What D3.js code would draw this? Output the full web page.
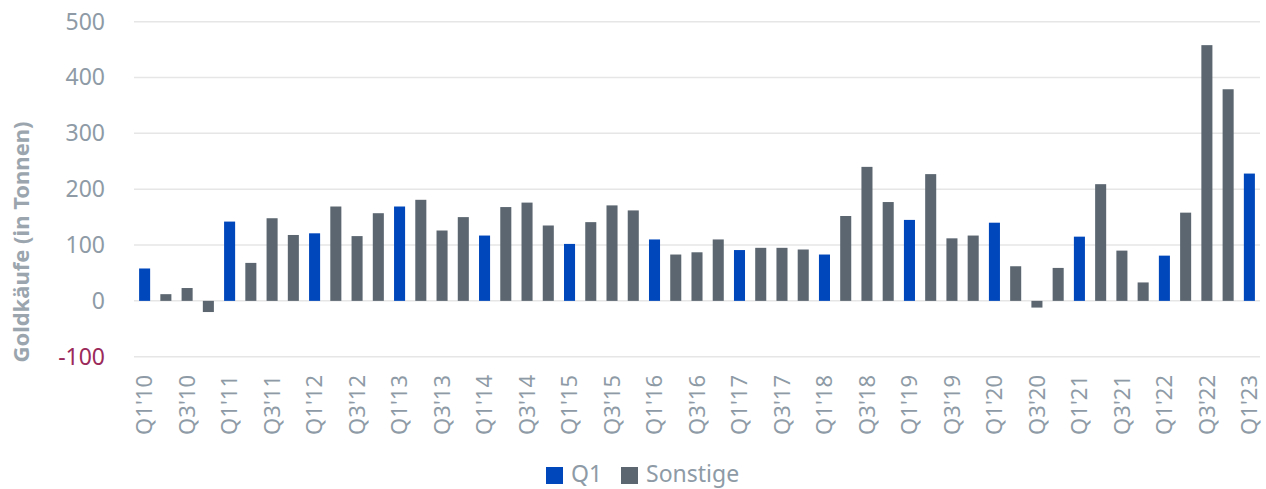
<!DOCTYPE html>
<html>
<head>
<meta charset="utf-8">
<script src="https://cdn.jsdelivr.net/npm/d3@7"></script>
<style>
  body { margin: 0; background: #fff; }
  svg { display: block; font-family: "Noto Sans", "DejaVu Sans", sans-serif; }
</style>
</head>
<body>
<svg id="chart" width="1266" height="489"></svg>
<script>
// quarters, Q1'10 .. Q1'23
const quarters = [
  "Q1'10","Q2'10","Q3'10","Q4'10",
  "Q1'11","Q2'11","Q3'11","Q4'11",
  "Q1'12","Q2'12","Q3'12","Q4'12",
  "Q1'13","Q2'13","Q3'13","Q4'13",
  "Q1'14","Q2'14","Q3'14","Q4'14",
  "Q1'15","Q2'15","Q3'15","Q4'15",
  "Q1'16","Q2'16","Q3'16","Q4'16",
  "Q1'17","Q2'17","Q3'17","Q4'17",
  "Q1'18","Q2'18","Q3'18","Q4'18",
  "Q1'19","Q2'19","Q3'19","Q4'19",
  "Q1'20","Q2'20","Q3'20","Q4'20",
  "Q1'21","Q2'21","Q3'21","Q4'21",
  "Q1'22","Q2'22","Q3'22","Q4'22",
  "Q1'23"
];

// gold purchases in tonnes
const tonnes = [
  58, 12, 23, -20,
  142, 68, 148, 118,
  121, 169, 116, 157,
  169, 181, 126, 150,
  117, 168, 176, 135,
  102, 141, 171, 162,
  110, 83, 87, 110,
  91, 95, 95, 92,
  83, 152, 240, 177,
  145, 227, 112, 117,
  140, 62, -12, 59,
  115, 209, 90, 33,
  81, 158, 458, 379,
  228
];

const yTicks = [-100, 0, 100, 200, 300, 400, 500];
const seriesNames = ["Q1", "Sonstige"];

const blue = '#0047bb', grey = '#5b6670';
const tickGrey = '#8e9ba6', negColor = '#9b2a5a';

const svg = d3.select('#chart');

const x = d3.scaleBand()
  .domain(quarters)
  .range([134, 1260])
  .paddingInner(0.48)
  .paddingOuter(0.24);

const y = d3.scaleLinear()
  .domain([-100, 500])
  .range([356.7, 21.7]);

const isQ1 = q => q.startsWith('Q1');

// gridlines
svg.append('g')
  .selectAll('line')
  .data(yTicks)
  .enter()
    .append('line')
    .attr('x1', 134)
    .attr('x2', 1260)
    .attr('y1', d => y(d))
    .attr('y2', d => y(d))
    .attr('stroke', '#e6e6e6')
    .attr('stroke-width', 1.5);

// y axis labels (plain hyphen for negatives)
let yAxis = g => g
  .attr('transform', 'translate(105,0)')
  .call(d3.axisLeft(y).tickValues(yTicks).tickFormat(d => String(d)).tickSize(0).tickPadding(0))
  .call(g => g.select('.domain').remove())
  .call(g => g.selectAll('text')
    .attr('font-size', 23)
    .attr('font-family', '"Noto Sans", sans-serif')
    .attr('fill', d => d < 0 ? negColor : tickGrey));
svg.append('g').call(yAxis);

// bars
svg.append('g')
  .selectAll('rect')
  .data(quarters.map((q, i) => ({ q, v: tonnes[i] })))
  .enter()
    .append('rect')
    .attr('x', d => x(d.q))
    .attr('width', x.bandwidth())
    .attr('y', d => y(Math.max(0, d.v)))
    .attr('height', d => Math.abs(y(d.v) - y(0)))
    .attr('fill', d => isQ1(d.q) ? blue : grey);

// x axis labels, every second quarter
let xAxis = g => g
  .attr('transform', 'translate(0,375)')
  .call(d3.axisBottom(x).tickValues(quarters.filter((q, i) => i % 2 === 0)).tickSize(0).tickPadding(0))
  .call(g => g.select('.domain').remove())
  .call(g => g.selectAll('text')
    .attr('font-size', 22)
    .attr('font-family', '"Noto Sans", sans-serif')
    .attr('fill', tickGrey)
    .attr('text-anchor', 'end')
    .attr('dy', '0.35em')
    .attr('y', 0)
    .attr('transform', 'rotate(-90)'));
svg.append('g').call(xAxis);

// y axis title
svg.append('text')
  .attr('transform', 'translate(29,242) rotate(-90)')
  .attr('text-anchor', 'middle')
  .attr('font-size', 22)
  .attr('font-weight', 'bold')
  .attr('fill', '#9aa5ae')
  .text('Goldkäufe (in Tonnen)');

// legend
const legend = svg.append('g');
const legendX = [546, 621];
seriesNames.forEach((name, i) => {
  legend.append('rect')
    .attr('x', legendX[i])
    .attr('y', 467)
    .attr('width', 17)
    .attr('height', 17)
    .attr('fill', i === 0 ? blue : grey);
  legend.append('text')
    .attr('x', legendX[i] + 25)
    .attr('y', 482)
    .attr('font-size', 23)
    .attr('fill', tickGrey)
    .text(name);
});
</script>
</body>
</html>
